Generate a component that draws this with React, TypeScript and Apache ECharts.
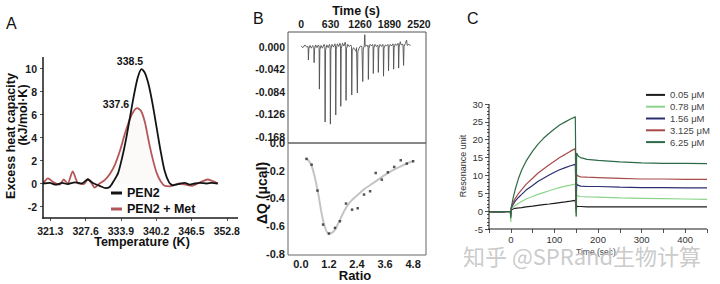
import React, { useEffect, useRef } from 'react';
import * as echarts from 'echarts';

const FONT = '"Liberation Sans", Arial, Helvetica, sans-serif';

// ---------- Panel A (DSC) ----------
const aXTicks = [321.3, 327.6, 333.9, 340.2, 346.5, 352.8];
const aYTicks = [-2, 0, 2, 4, 6, 8, 10];
const pen2: [number, number][] = [
  [320.0, 0.0], [321.2, 0.05], [322.3, -0.1], [323.4, 0.05], [324.4, -0.05], [325.7, 0.1],
  [326.9, 0.0], [328.0, 0.35], [328.9, 0.05], [330.1, -0.2], [331.2, -0.4], [331.9, -0.3],
  [332.6, 0.2], [333.4, 0.9], [334.1, 2.2], [334.8, 3.8], [335.5, 5.7], [336.2, 7.6],
  [336.9, 9.2], [337.6, 9.95], [338.2, 9.6], [338.9, 8.5], [339.6, 6.8], [340.3, 4.8],
  [341.0, 2.8], [341.7, 1.1], [342.5, 0.1], [343.2, -0.15], [344.1, -0.05], [345.3, 0.05],
  [346.2, -0.1], [347.1, 0.0], [348.0, 0.05], [349.2, 0.0], [350.1, 0.05], [351.2, 0.0],
];
const pen2Met: [number, number][] = [
  [320.0, 0.0], [320.9, 0.45], [321.9, 0.1], [323.0, -0.1], [323.7, 0.35], [324.4, 0.0],
  [325.3, 1.05], [326.2, 0.05], [327.3, -0.05], [328.0, 0.4], [328.7, 0.0], [329.2, -0.35],
  [330.1, 0.0], [331.0, 0.3], [331.9, 0.8], [332.8, 1.6], [333.7, 2.8], [334.6, 4.3],
  [335.5, 5.6], [336.2, 6.3], [336.8, 6.55], [337.5, 6.3], [338.2, 5.3], [338.9, 3.6],
  [339.6, 2.1], [340.3, 0.9], [341.0, 0.2], [341.7, -0.2], [342.6, -0.25], [343.5, -0.1],
  [344.4, 0.0], [345.5, -0.1], [346.6, -0.2], [347.6, 0.0], [348.5, 0.2], [349.4, 0.35],
  [350.3, 0.2], [351.2, 0.0],
];
const aNames = ['PEN2', 'PEN2 + Met'];
const aPeaks = ['338.5', '337.6'];

// ---------- Panel B (ITC) ----------
const bTimeTicks = [0, 630, 1260, 1890, 2520];
const bRawTicks = [0, -0.042, -0.084, -0.126, -0.168];
const bRatioTicks = [0, 1.2, 2.4, 3.6, 4.8];
const bHeatTicks = [0, -0.2, -0.4, -0.6, -0.8];
const thermogram: [number, number][] = [
  [0, 0.001], [40, -0.002], [80, 0.003], [120, -0.001],
  [150, 0.0], [156, -0.025], [166, -0.004], [190, 0.002], [220, -0.003], [250, 0.002],
  [272, 0.0], [278, -0.03], [288, -0.005], [310, 0.003], [340, -0.002], [370, 0.003],
  [385, 0.001], [391, -0.079], [401, -0.006], [425, 0.002], [455, -0.003], [490, 0.004],
  [507, 0.0], [513, -0.14], [523, -0.007], [550, 0.003], [580, -0.002], [605, 0.004],
  [620, 0.001], [626, -0.144], [636, -0.006], [660, 0.004], [695, -0.001], [722, 0.005],
  [735, 0.002], [741, -0.127], [751, -0.005], [775, 0.005], [805, 0.0], [830, 0.006],
  [842, 0.002], [848, -0.111], [858, -0.004], [885, 0.006], [915, 0.001], [942, 0.008],
  [955, 0.003], [961, -0.1], [971, -0.004], [1000, 0.004], [1030, 0.0], [1062, 0.003],
  [1077, 0.0], [1083, -0.09], [1093, -0.008], [1120, -0.002], [1150, -0.006], [1175, -0.009], [1185, -0.002],
  [1197, -0.002], [1203, -0.086], [1213, -0.01], [1240, -0.003], [1270, 0.001], [1300, 0.0],
  [1312, 0.0], [1318, -0.065], [1328, -0.006], [1350, 0.002], [1362, 0.022], [1370, 0.0], [1400, 0.003], [1425, 0.0],
  [1432, 0.002], [1438, -0.061], [1448, -0.004], [1475, 0.004], [1505, 0.001], [1528, 0.004],
  [1538, 0.002], [1544, -0.05], [1554, -0.003], [1580, 0.004], [1610, 0.0], [1638, 0.003],
  [1645, 0.001], [1651, -0.048], [1661, -0.003], [1690, 0.004], [1720, 0.0], [1748, 0.004],
  [1756, 0.0], [1762, -0.055], [1772, -0.003], [1800, 0.003], [1830, 0.001], [1856, 0.004],
  [1863, 0.002], [1869, -0.045], [1879, -0.002], [1905, 0.004], [1935, 0.001], [1964, 0.005],
  [1972, 0.002], [1978, -0.042], [1988, -0.002], [2015, 0.005], [2045, 0.002], [2072, 0.006],
  [2079, 0.003], [2085, -0.04], [2095, -0.001], [2120, 0.009], [2140, 0.003], [2178, 0.004],
  [2185, 0.003], [2191, -0.035], [2201, 0.0], [2230, 0.006], [2255, 0.012], [2270, 0.002], [2300, 0.004], [2340, 0.002],
];
const injRatio = [0.24, 0.46, 0.71, 0.95, 1.2, 1.46, 1.67, 1.93, 2.19, 2.43, 2.7, 2.96, 3.2, 3.46, 3.72, 3.99, 4.27, 4.53, 4.8];
const injHeat = [-0.115, -0.157, -0.344, -0.59, -0.655, -0.614, -0.566, -0.438, -0.482, -0.472, -0.373, -0.349, -0.217, -0.265, -0.212, -0.173, -0.125, -0.149, -0.132];
const fitRatio = [0.24, 0.45, 0.7, 0.9, 1.05, 1.2, 1.4, 1.6, 1.8, 2.0, 2.2, 2.4, 2.7, 3.0, 3.3, 3.6, 3.9, 4.2, 4.5, 4.8];
const fitHeat = [-0.11, -0.16, -0.33, -0.52, -0.62, -0.655, -0.64, -0.58, -0.51, -0.45, -0.41, -0.38, -0.335, -0.3, -0.265, -0.23, -0.2, -0.175, -0.15, -0.13];

// ---------- Panel C (SPR) ----------
const cNames = ['0.05 μM', '0.78 μM', '1.56 μM', '3.125 μM', '6.25 μM'];
const cColors = ['#1c1c1c', '#8cd48c', '#2c2e70', '#a84a4a', '#2f6a46'];
const cXTicks = [0, 100, 200, 300, 400];
const cYTicks = [0, 5, 10, 15, 20, 25, 30];
const cYMinLabel = '-5';
const cTime = [-50, -40, -30, -20, -10, -1, 0, 1, 5, 10, 18, 25, 35, 50, 62, 75, 88, 100, 112, 125, 137, 148, 150, 151, 155, 160, 175, 200, 250, 300, 350, 400, 450];
const c005 = [-0.2, -0.3, -0.2, -0.3, -0.2, -0.2, -1.5, 0.3, 0.6, 0.8, 0.9, 1.0, 1.2, 1.4, 1.6, 1.8, 2.0, 2.2, 2.4, 2.6, 2.8, 3.0, -0.5, 1.4, 1.3, 1.3, 1.2, 1.2, 1.2, 1.2, 1.2, 1.2, 1.2];
const c078 = [-0.1, -0.2, -0.1, -0.2, -0.1, -0.1, -3.0, 0.5, 1.0, 1.6, 2.2, 2.7, 3.4, 4.1, 4.7, 5.2, 5.7, 6.2, 6.6, 7.0, 7.3, 7.6, -1.5, 4.5, 4.2, 4.1, 4.0, 3.9, 3.7, 3.6, 3.5, 3.4, 3.3];
const c156 = [-0.1, -0.2, -0.1, -0.2, -0.1, -0.1, -1.0, 0.8, 1.8, 2.8, 3.9, 4.7, 5.9, 7.2, 8.3, 9.2, 10.1, 10.9, 11.6, 12.2, 12.7, 13.1, 0.5, 7.6, 7.2, 7.0, 6.9, 6.9, 6.7, 6.6, 6.6, 6.5, 6.5];
const c3125 = [-0.1, -0.2, -0.1, -0.2, -0.1, -0.1, -1.0, 1.0, 2.3, 3.5, 5.0, 6.0, 7.5, 9.2, 10.6, 11.8, 13.0, 14.0, 15.0, 15.9, 16.8, 17.5, 0.5, 10.2, 9.8, 9.6, 9.5, 9.4, 9.2, 9.0, 9.0, 8.9, 8.9];
const c625 = [-0.1, -0.2, -0.1, -0.2, -0.1, -0.1, -2.0, 1.0, 3.5, 6.0, 9.3, 11.5, 14.0, 16.8, 18.7, 20.4, 21.8, 23.0, 24.1, 25.0, 25.8, 26.4, -1.5, 16.3, 15.4, 15.0, 14.5, 14.2, 13.8, 13.5, 13.4, 13.4, 13.3];
const cValues = [c005, c078, c156, c3125, c625];

const txt = (text: string, x: number, y: number, size: number, opts: any = {}) => ({
  type: 'text',
  x,
  y,
  rotation: opts.rotation || 0,
  z: opts.z || 10,
  style: {
    text,
    fill: opts.fill || '#111',
    fontSize: size,
    fontWeight: opts.weight || 'normal',
    fontFamily: opts.family || FONT,
    align: opts.align || 'center',
    verticalAlign: 'middle',
    opacity: opts.opacity ?? 1,
  },
});

const frameLine = (x1: number, y1: number, x2: number, y2: number, w: number) => ({
  type: 'line',
  z: 9,
  shape: { x1, y1, x2, y2 },
  style: { stroke: '#1a1a1a', lineWidth: w },
});

export default function App() {
  const ref = useRef<HTMLDivElement>(null);
  useEffect(() => {
    document.body.style.margin = '0';
    const chart = echarts.init(ref.current!, null, { renderer: 'svg' });
    const boldLabel = { fontFamily: FONT, fontWeight: 'bold', color: '#1a1a1a' };
    const tickStyle = { color: '#555', width: 1 };
    const option: any = {
      animation: false,
      grid: [
        { left: 43, top: 57, width: 195, height: 161 },
        { left: 288, top: 32, width: 138, height: 111, show: true, borderColor: '#555', borderWidth: 1 },
        { left: 288, top: 143, width: 138, height: 112, show: true, borderColor: '#666', borderWidth: 1 },
        { left: 489, top: 104, width: 218, height: 125 },
      ],
      xAxis: [
        {
          type: 'value', gridIndex: 0, min: 320, max: 354.8,
          axisLine: { show: false, onZero: false },
          axisTick: { show: true, customValues: aXTicks, length: 3, lineStyle: tickStyle },
          axisLabel: { customValues: aXTicks, formatter: (v: number) => v.toFixed(1), fontSize: 10.5, margin: 7, ...boldLabel },
          splitLine: { show: false },
        },
        {
          type: 'value', gridIndex: 1, position: 'top', min: -280, max: 2670,
          axisLine: { show: false, onZero: false }, axisTick: { show: false },
          axisLabel: { customValues: bTimeTicks, formatter: (v: number) => String(v), fontSize: 10.5, margin: 3, ...boldLabel },
          splitLine: { show: false },
        },
        {
          type: 'value', gridIndex: 2, min: -0.55, max: 5.35,
          axisLine: { show: false, onZero: false }, axisTick: { show: false },
          axisLabel: { customValues: bRatioTicks, formatter: (v: number) => v.toFixed(1), fontSize: 11, margin: 3, ...boldLabel },
          splitLine: { show: false },
        },
        {
          type: 'value', gridIndex: 3, min: -50, max: 450, interval: 50,
          axisLine: { show: false, onZero: false },
          axisTick: { show: true, length: 4, lineStyle: tickStyle },
          axisLabel: { customValues: cXTicks, fontSize: 9.5, margin: 5, color: '#333', fontFamily: FONT },
          splitLine: { show: false },
        },
      ],
      yAxis: [
        {
          type: 'value', gridIndex: 0, min: -3, max: 11,
          axisLine: { show: false, onZero: false },
          axisTick: { show: true, customValues: aYTicks, length: 3, lineStyle: tickStyle },
          axisLabel: { customValues: aYTicks, fontSize: 10.5, margin: 6, ...boldLabel },
          splitLine: { show: false },
        },
        {
          type: 'value', gridIndex: 1, min: -0.179, max: 0.027,
          axisLine: { show: false, onZero: false }, axisTick: { show: false },
          axisLabel: { customValues: bRawTicks, formatter: (v: number) => v.toFixed(3), fontSize: 10.5, margin: 3, ...boldLabel },
          splitLine: { show: false },
        },
        {
          type: 'value', gridIndex: 2, min: -0.81, max: 0,
          axisLine: { show: false, onZero: false }, axisTick: { show: false },
          axisLabel: { customValues: bHeatTicks, formatter: (v: number) => v.toFixed(1), fontSize: 11, margin: 3, ...boldLabel },
          splitLine: { show: false },
        },
        {
          type: 'value', gridIndex: 3, min: -5, max: 30, interval: 5,
          axisLine: { show: false, onZero: false },
          axisTick: { show: true, length: 4, lineStyle: tickStyle },
          minorTick: { show: true, splitNumber: 5, length: 2, lineStyle: tickStyle },
          axisLabel: { customValues: cYTicks, fontSize: 9.5, margin: 6, color: '#333', fontFamily: FONT },
          splitLine: { show: false },
        },
      ],
      legend: [
        {
          data: aNames, orient: 'vertical', left: 111, top: 186, icon: 'rect',
          itemWidth: 11, itemHeight: 3, itemGap: 2, selectedMode: false, padding: 0,
          textStyle: { fontFamily: FONT, fontWeight: 'bold', fontSize: 12.5, lineHeight: 14, color: '#111' },
        },
        {
          data: cNames, orient: 'vertical', left: 646, top: 89, icon: 'rect',
          itemWidth: 19, itemHeight: 2, itemGap: 0, selectedMode: false, padding: 0,
          textStyle: { fontFamily: FONT, fontSize: 9.5, lineHeight: 11.8, color: '#444' },
        },
      ],
      series: [
        {
          name: aNames[1], type: 'line', xAxisIndex: 0, yAxisIndex: 0, data: pen2Met,
          color: '#b4575a', symbol: 'none', smooth: 0.25, z: 2,
          lineStyle: { width: 1.8, color: '#b4575a' },
          areaStyle: { color: 'rgba(200,120,125,0.07)' },
        },
        {
          name: aNames[0], type: 'line', xAxisIndex: 0, yAxisIndex: 0, data: pen2,
          color: '#141414', symbol: 'none', smooth: 0.25, z: 3,
          lineStyle: { width: 1.8, color: '#141414' },
        },
        {
          name: 'thermogram', type: 'line', xAxisIndex: 1, yAxisIndex: 1, data: thermogram,
          symbol: 'none', lineStyle: { width: 0.9, color: '#505050' },
        },
        {
          name: 'fit', type: 'line', xAxisIndex: 2, yAxisIndex: 2,
          data: fitRatio.map((r, i) => [r, fitHeat[i]]),
          symbol: 'none', smooth: 0.4, lineStyle: { width: 2, color: '#c4c4c4' },
        },
        {
          name: 'injections', type: 'scatter', xAxisIndex: 2, yAxisIndex: 2,
          data: injRatio.map((r, i) => [r, injHeat[i]]),
          symbol: 'rect', symbolSize: 2.5, itemStyle: { color: '#2a2a2a' }, z: 4,
        },
        ...cNames.map((n, k) => ({
          name: n, type: 'line', xAxisIndex: 3, yAxisIndex: 3,
          data: cTime.map((t, i) => [t, cValues[k][i]]),
          color: cColors[k], symbol: 'none', z: 2 + k,
          lineStyle: { width: 1.2, color: cColors[k] },
        })),
      ],
      graphic: [
        // axis frame lines of panels A and C (left and bottom edges of their grids)
        frameLine(43, 57, 43, 218.75, 1.5),
        frameLine(42.25, 218, 238, 218, 1.5),
        frameLine(489, 104, 489, 229.5, 1),
        frameLine(488.5, 229, 707, 229, 1),
        txt('A', 6, 23.5, 16, { align: 'left' }),
        txt('B', 253, 18, 16, { align: 'left' }),
        txt('C', 467, 18.5, 16, { align: 'left' }),
        txt('Excess heat capacity', 11, 136, 12.5, { weight: 'bold', rotation: Math.PI / 2 }),
        txt('(kJ/mol·K)', 23, 115, 12.5, { weight: 'bold', rotation: Math.PI / 2 }),
        txt(aPeaks[0], 130, 61, 10.5, { weight: 'bold' }),
        txt(aPeaks[1], 116, 104, 10.5, { weight: 'bold' }),
        txt('Temperature (K)', 142, 242, 12.5, { weight: 'bold' }),
        txt('Time (s)', 356, 10.5, 12.5, { weight: 'bold' }),
        txt('ΔQ (μcal)', 262, 193, 14, { weight: 'bold', rotation: Math.PI / 2 }),
        txt('Ratio', 355, 275, 13, { weight: 'bold' }),
        txt('Resonance unit', 463, 166, 9, { rotation: Math.PI / 2, fill: '#333' }),
        txt(cYMinLabel, 483, 229, 9.5, { align: 'right', fill: '#333' }),
        txt('Time (sec)', 596, 252, 8.5, { fill: '#444' }),
        txt('知乎 @SPRand生物计算', 463, 255, 22, {
          align: 'left', fill: '#c4c4c4', opacity: 0.9, z: 20,
          family: '"Noto Sans CJK SC", "Noto Sans", sans-serif',
        }),
      ],
    };
    chart.setOption(option);
    return () => chart.dispose();
  }, []);
  return <div ref={ref} style={{ width: 720, height: 284 }} />;
}
